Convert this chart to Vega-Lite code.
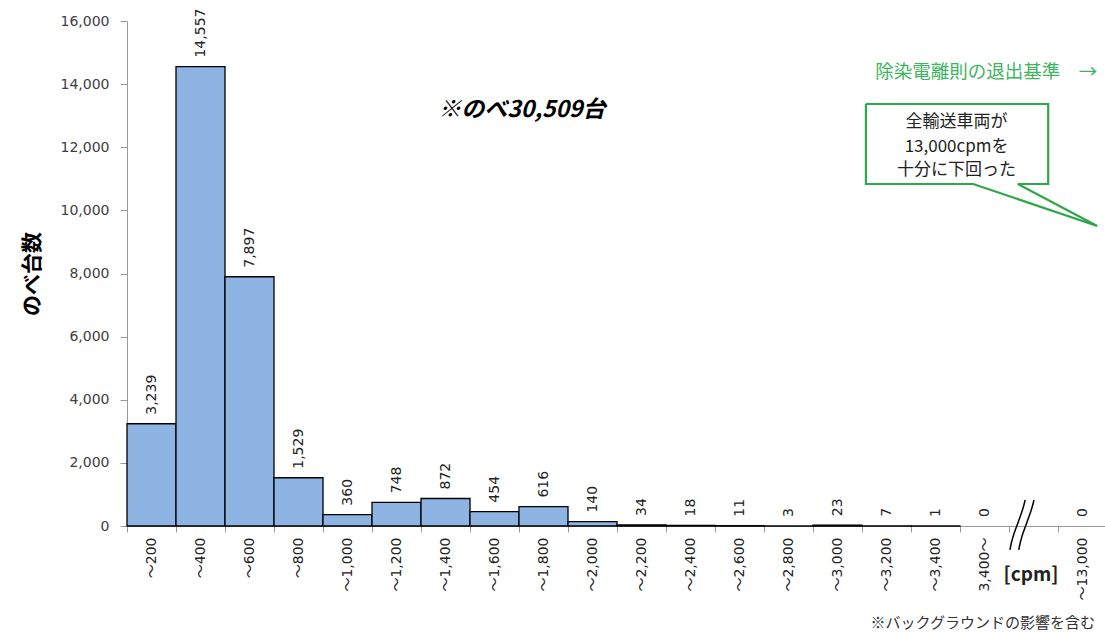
{
  "$schema": "https://vega.github.io/schema/vega-lite/v6.json",
  "width": 980,
  "height": 505,
  "autosize": {"type": "none"},
  "padding": {"left": 127, "top": 21, "right": 0, "bottom": 111},
  "background": "white",
  "config": {"view": {"stroke": null}, "font": "Noto Sans CJK JP"},
  "datasets": {
    "bins": [
      {"bin": "～200", "v": 3239},
      {"bin": "～400", "v": 14557},
      {"bin": "～600", "v": 7897},
      {"bin": "～800", "v": 1529},
      {"bin": "～1,000", "v": 360},
      {"bin": "～1,200", "v": 748},
      {"bin": "～1,400", "v": 872},
      {"bin": "～1,600", "v": 454},
      {"bin": "～1,800", "v": 616},
      {"bin": "～2,000", "v": 140},
      {"bin": "～2,200", "v": 34},
      {"bin": "～2,400", "v": 18},
      {"bin": "～2,600", "v": 11},
      {"bin": "～2,800", "v": 3},
      {"bin": "～3,000", "v": 23},
      {"bin": "～3,200", "v": 7},
      {"bin": "～3,400", "v": 1},
      {"bin": "3,400～", "v": 0},
      {"bin": "～13,000", "v": 0}
    ],
    "callout": [
      {"x": 15.08, "y": 13370, "o": 1},
      {"x": 18.8, "y": 13370, "o": 2},
      {"x": 18.8, "y": 10836, "o": 3},
      {"x": 18.18, "y": 10836, "o": 4},
      {"x": 19.8, "y": 9505, "o": 5},
      {"x": 17.27, "y": 10836, "o": 6},
      {"x": 15.08, "y": 10836, "o": 7},
      {"x": 15.08, "y": 13370, "o": 8}
    ],
    "brk": [
      {"x": 18.02, "y": -760, "o": 1, "g": "a"},
      {"x": 18.06, "y": -380, "o": 2, "g": "a"},
      {"x": 18.27, "y": 444, "o": 3, "g": "a"},
      {"x": 18.33, "y": 824, "o": 4, "g": "a"},
      {"x": 18.2, "y": -760, "o": 1, "g": "b"},
      {"x": 18.24, "y": -380, "o": 2, "g": "b"},
      {"x": 18.45, "y": 444, "o": 3, "g": "b"},
      {"x": 18.51, "y": 824, "o": 4, "g": "b"}
    ]
  },
  "resolve": {"scale": {"x": "independent"}},
  "layer": [
    {
      "data": {"name": "bins"},
      "transform": [{"filter": "datum.v > 0"}],
      "mark": {"type": "bar", "fill": "#8DB4E2", "stroke": "#000000", "strokeWidth": 1.3},
      "encoding": {
        "x": {
          "field": "bin", "type": "nominal", "sort": null,
          "scale": {
            "domain": ["～200", "～400", "～600", "～800", "～1,000", "～1,200", "～1,400", "～1,600", "～1,800", "～2,000", "～2,200", "～2,400", "～2,600", "～2,800", "～3,000", "～3,200", "～3,400", "3,400～", "gap", "～13,000"],
            "paddingInner": 0, "paddingOuter": 0
          },
          "axis": {
            "title": null, "labelAngle": 270, "tickBand": "extent",
            "labelExpr": "datum.value == 'gap' ? '' : datum.value",
            "labelFont": "DejaVu Sans, Noto Sans CJK JP", "labelFontSize": 14, "labelColor": "#222222",
            "labelPadding": 5, "tickSize": 6, "tickColor": "#999999", "domainColor": "#999999", "grid": false
          }
        },
        "y": {
          "field": "v", "type": "quantitative",
          "scale": {"domain": [0, 16000], "nice": false},
          "axis": {
            "title": "のべ台数", "titleFontSize": 21, "titleFontWeight": "bold", "titleColor": "#000000",
            "titleFont": "Noto Sans CJK JP", "titlePadding": 18,
            "values": [0, 2000, 4000, 6000, 8000, 10000, 12000, 14000, 16000],
            "labelExpr": "format(datum.value, ',')",
            "labelFont": "DejaVu Sans", "labelFontSize": 14, "labelColor": "#404040",
            "labelPadding": 11, "tickSize": 7, "tickColor": "#999999", "domainColor": "#999999", "grid": false
          }
        }
      }
    },
    {
      "data": {"name": "bins"},
      "mark": {"type": "text", "angle": 270, "align": "left", "baseline": "middle", "dx": 9, "font": "DejaVu Sans", "fontSize": 14, "fill": "#222222"},
      "encoding": {
        "x": {
          "field": "bin", "type": "nominal", "sort": null,
          "scale": {
            "domain": ["～200", "～400", "～600", "～800", "～1,000", "～1,200", "～1,400", "～1,600", "～1,800", "～2,000", "～2,200", "～2,400", "～2,600", "～2,800", "～3,000", "～3,200", "～3,400", "3,400～", "gap", "～13,000"],
            "paddingInner": 0, "paddingOuter": 0
          },
          "axis": null
        },
        "y": {"field": "v", "type": "quantitative", "scale": {"domain": [0, 16000], "nice": false}},
        "text": {"field": "v", "type": "quantitative", "format": ","}
      }
    },
    {
      "data": {"values": [{"x": 8.06, "y": 13180, "t": "※のべ30,509台"}]},
      "mark": {"type": "text", "align": "center", "baseline": "middle", "fontSize": 23, "fontWeight": "bold", "fontStyle": "italic", "fill": "#000000"},
      "encoding": {
        "x": {"field": "x", "type": "quantitative", "scale": {"domain": [0, 20], "nice": false, "zero": false}, "axis": null},
        "y": {"field": "y", "type": "quantitative", "scale": {"domain": [0, 16000], "nice": false}},
        "text": {"field": "t"}
      }
    },
    {
      "data": {"values": [{"x": 15.27, "y": 14384, "t": "除染電離則の退出基準　→"}]},
      "mark": {"type": "text", "align": "left", "baseline": "middle", "fontSize": 18.5, "fill": "#3DB560"},
      "encoding": {
        "x": {"field": "x", "type": "quantitative", "scale": {"domain": [0, 20], "nice": false, "zero": false}, "axis": null},
        "y": {"field": "y", "type": "quantitative", "scale": {"domain": [0, 16000], "nice": false}},
        "text": {"field": "t"}
      }
    },
    {
      "data": {"name": "callout"},
      "mark": {"type": "line", "stroke": "#2EA84A", "strokeWidth": 2.2, "strokeJoin": "miter"},
      "encoding": {
        "x": {"field": "x", "type": "quantitative", "scale": {"domain": [0, 20], "nice": false, "zero": false}, "axis": null},
        "y": {"field": "y", "type": "quantitative", "scale": {"domain": [0, 16000], "nice": false}},
        "order": {"field": "o", "type": "quantitative"}
      }
    },
    {
      "data": {"values": [
        {"x": 16.93, "y": 12810, "t": "全輸送車両が"},
        {"x": 16.93, "y": 12018, "t": "13,000cpmを"},
        {"x": 16.93, "y": 11279, "t": "十分に下回った"}
      ]},
      "mark": {"type": "text", "align": "center", "baseline": "middle", "fontSize": 17, "fill": "#222222"},
      "encoding": {
        "x": {"field": "x", "type": "quantitative", "scale": {"domain": [0, 20], "nice": false, "zero": false}, "axis": null},
        "y": {"field": "y", "type": "quantitative", "scale": {"domain": [0, 16000], "nice": false}},
        "text": {"field": "t"}
      }
    },
    {
      "data": {"values": [{"x": 18.45, "y": -1552, "t": "[cpm]"}]},
      "mark": {"type": "text", "align": "center", "baseline": "middle", "fontSize": 19, "fontWeight": "bold", "fill": "#222222"},
      "encoding": {
        "x": {"field": "x", "type": "quantitative", "scale": {"domain": [0, 20], "nice": false, "zero": false}, "axis": null},
        "y": {"field": "y", "type": "quantitative", "scale": {"domain": [0, 16000], "nice": false}},
        "text": {"field": "t"}
      }
    },
    {
      "data": {"values": [{"x": 19.755, "y": -3073, "t": "※バックグラウンドの影響を含む"}]},
      "mark": {"type": "text", "align": "right", "baseline": "middle", "fontSize": 15, "fill": "#333333"},
      "encoding": {
        "x": {"field": "x", "type": "quantitative", "scale": {"domain": [0, 20], "nice": false, "zero": false}, "axis": null},
        "y": {"field": "y", "type": "quantitative", "scale": {"domain": [0, 16000], "nice": false}},
        "text": {"field": "t"}
      }
    },
    {
      "data": {"name": "brk"},
      "mark": {"type": "line", "stroke": "#000000", "strokeWidth": 1.5, "interpolate": "basis"},
      "encoding": {
        "x": {"field": "x", "type": "quantitative", "scale": {"domain": [0, 20], "nice": false, "zero": false}, "axis": null},
        "y": {"field": "y", "type": "quantitative", "scale": {"domain": [0, 16000], "nice": false}},
        "order": {"field": "o", "type": "quantitative"},
        "detail": {"field": "g"}
      }
    }
  ]
}
